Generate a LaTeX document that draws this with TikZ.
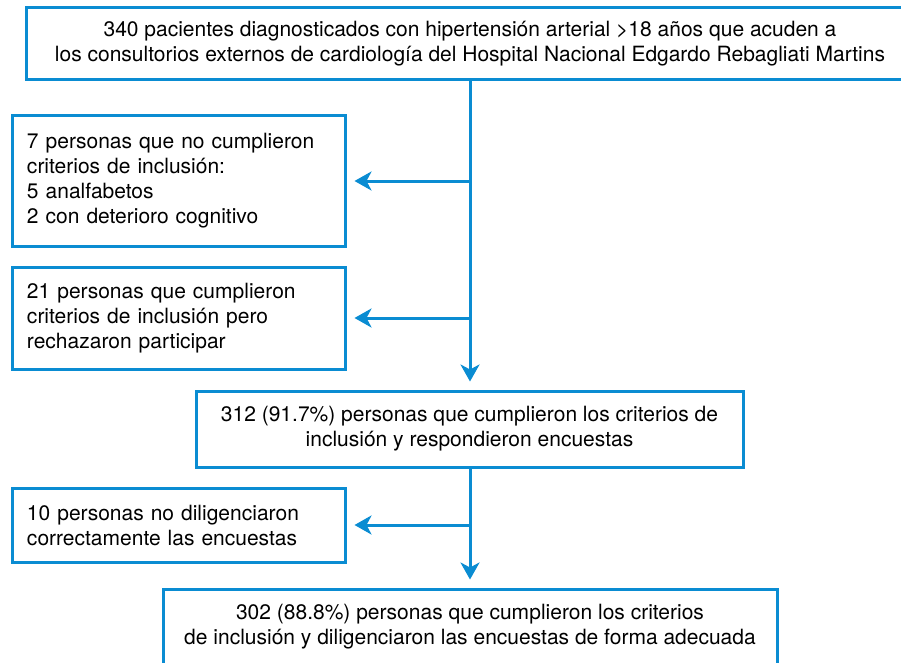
\documentclass[tikz,border=0pt]{standalone}
\usepackage{fontspec}
\setmainfont{TeX Gyre Heros}
\usetikzlibrary{arrows.meta, positioning, calc}
\definecolor{flowblue}{HTML}{0A8CD2}
\tikzset{
  flowbox/.style={draw=flowblue, line width=3pt, inner xsep=15pt, inner ysep=0pt,
    align=center, font=\fontsize{21}{25}\selectfont},
  sidebox/.style={flowbox, align=left, text width=303pt, minimum height=#1},
  flowarrow/.style={draw=flowblue, line width=3pt, shorten >=8pt,
    -{Stealth[length=17pt, width=19pt, inset=5pt]}}
}

\begin{document}
\begin{tikzpicture}[x=1pt, y=-1pt]
  \useasboundingbox (0,0) rectangle (901,663);
  \node[flowbox, minimum width=888pt, minimum height=72pt] (poblacion) at (470,44)
    {340 pacientes diagnosticados con hipertensión arterial >18 años que acuden a\\
     los consultorios externos de cardiología del Hospital Nacional Edgardo Rebagliati Martins};
  \node[sidebox=130pt] (noinclusion) at (178.5,181)
    {7 personas que no cumplieron\\ criterios de inclusión:\\ 5 analfabetos\\ 2 con deterioro cognitivo};
  \node[sidebox=102pt] (rechazo) at (178.5,318)
    {21 personas que cumplieron\\ criterios de inclusión pero\\ rechazaron participar};
  \node[flowbox, minimum width=547pt, minimum height=76pt] (encuestados) at (469.5,429)
    {312 (91.7\%) personas que cumplieron los criterios de\\ inclusión y respondieron encuestas};
  \node[sidebox=74pt] (malllenado) at (178.5,525)
    {10 personas no diligenciaron\\ correctamente las encuestas};
  \node[flowbox, minimum width=614pt, minimum height=76pt] (final) at (470,627)
    {302 (88.8\%) personas que cumplieron los criterios\\ de inclusión y diligenciaron las encuestas de forma adecuada};

  % derivaciones desde el tronco
  \coordinate (jA) at (poblacion.south |- noinclusion.east);
  \coordinate (jB) at (poblacion.south |- rechazo.east);
  \coordinate (jC) at (encuestados.south -| poblacion.south);
  \coordinate (jD) at (jC |- malllenado.east);

  \draw[flowarrow] (poblacion.south) -- (poblacion.south |- encuestados.north);
  \draw[flowarrow] (jA) -- (noinclusion.east);
  \draw[flowarrow] (jB) -- (rechazo.east);
  \draw[flowarrow] (jC) -- (jC |- final.north);
  \draw[flowarrow] (jD) -- (malllenado.east);
\end{tikzpicture}
\end{document}
